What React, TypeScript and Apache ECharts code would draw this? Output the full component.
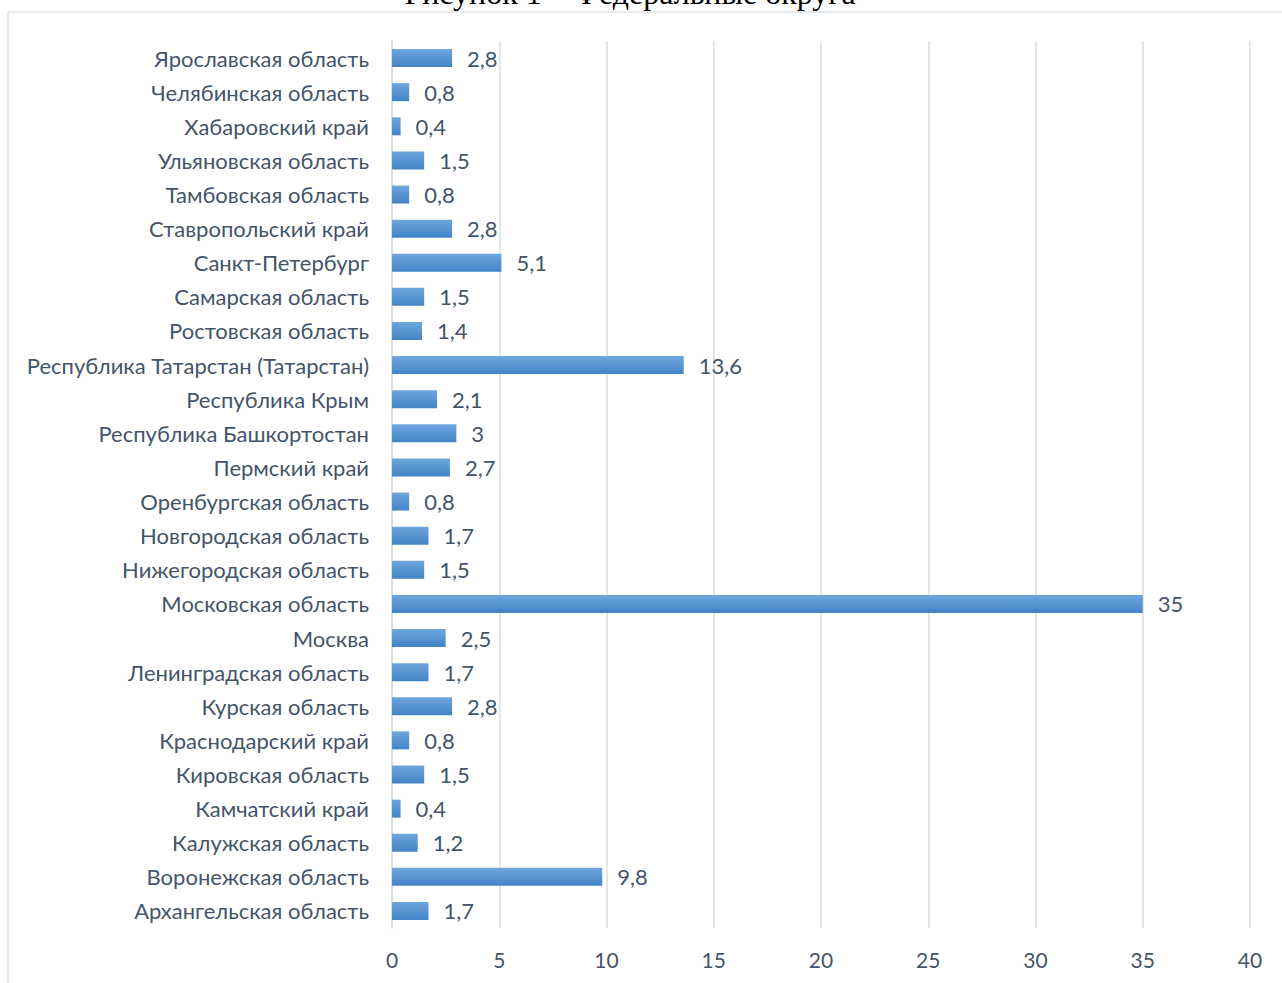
import React, { useEffect, useRef } from "react";
import * as echarts from "echarts";

const categories = [
  "Архангельская область",
  "Воронежская область",
  "Калужская область",
  "Камчатский край",
  "Кировская область",
  "Краснодарский край",
  "Курская область",
  "Ленинградская область",
  "Москва",
  "Московская область",
  "Нижегородская область",
  "Новгородская область",
  "Оренбургская область",
  "Пермский край",
  "Республика Башкортостан",
  "Республика Крым",
  "Республика Татарстан (Татарстан)",
  "Ростовская область",
  "Самарская область",
  "Санкт-Петербург",
  "Ставропольский край",
  "Тамбовская область",
  "Ульяновская область",
  "Хабаровский край",
  "Челябинская область",
  "Ярославская область",
];

const values = [
  1.7, 9.8, 1.2, 0.4, 1.5, 0.8, 2.8, 1.7, 2.5, 35, 1.5, 1.7, 0.8, 2.7, 3, 2.1,
  13.6, 1.4, 1.5, 5.1, 2.8, 0.8, 1.5, 0.4, 0.8, 2.8,
];

const titleText = "Рисунок 1 – Федеральные округа";

const textColor = "#44546A";
const gridColor = "#D9DDE3";
const font = "Lato, 'Open Sans', sans-serif";

export default function App() {
  const ref = useRef<HTMLDivElement>(null);

  useEffect(() => {
    if (!ref.current) return;
    const chart = echarts.init(ref.current, null, { renderer: "svg" });
    chart.setOption({
      animation: false,
      backgroundColor: "#ffffff",
      graphic: [
        {
          type: "rect",
          shape: { x: 8, y: 12, width: 1300, height: 1000 },
          style: { fill: "none", stroke: "#DFE3E8", lineWidth: 1.5 },
          silent: true,
        },
        {
          type: "text",
          x: 630,
          y: -23,
          style: {
            text: titleText,
            font: "32px 'Liberation Serif', 'DejaVu Serif', serif",
            fill: "#000000",
            textAlign: "center",
            textVerticalAlign: "top",
          },
          silent: true,
        },
      ],
      grid: {
        left: 392,
        right: 32,
        top: 41,
        bottom: 55,
        containLabel: false,
      },
      xAxis: {
        type: "value",
        min: 0,
        max: 40,
        interval: 5,
        axisLine: { show: false },
        axisTick: { show: false },
        splitLine: { show: true, lineStyle: { color: gridColor, width: 1.5 } },
        axisLabel: {
          color: textColor,
          fontSize: 21,
          fontFamily: font,
          margin: 21,
        },
      },
      yAxis: {
        type: "category",
        data: categories,
        axisLine: { show: true, lineStyle: { color: gridColor, width: 1.5 } },
        axisTick: { show: false },
        splitLine: { show: false },
        axisLabel: {
          color: textColor,
          fontSize: 22,
          fontFamily: font,
          margin: 23,
        },
      },
      series: [
        {
          type: "bar",
          data: values,
          barWidth: 18,
          itemStyle: {
            color: new echarts.graphic.LinearGradient(0, 0, 0, 1, [
              { offset: 0, color: "#6FA6DD" },
              { offset: 1, color: "#4283C7" },
            ]),
          },
          label: {
            show: true,
            position: "right",
            distance: 15,
            color: textColor,
            fontSize: 22,
            fontFamily: font,
            formatter: (p: any) => String(p.value).replace(".", ","),
          },
        },
      ],
    });
    return () => chart.dispose();
  }, []);

  return (
    <div
      ref={ref}
      style={{ position: "fixed", left: 0, top: 0, width: 1282, height: 983 }}
    />
  );
}
